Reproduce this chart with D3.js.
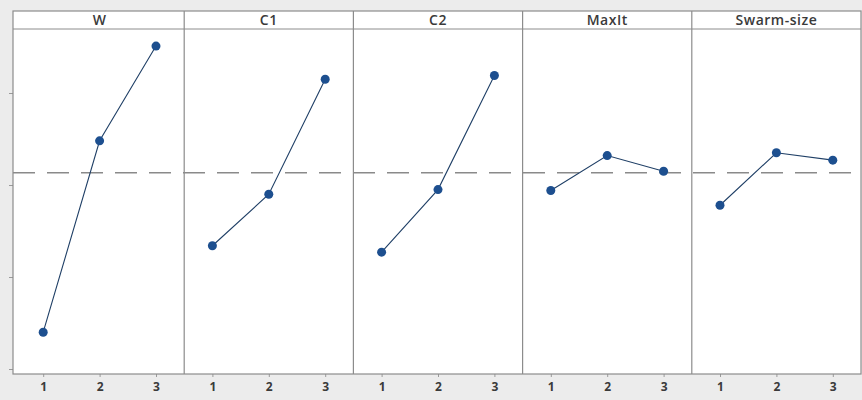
<!DOCTYPE html>
<html>
<head>
<meta charset="utf-8">
<script src="https://cdn.jsdelivr.net/npm/d3@7"></script>
<style>
  html, body { margin: 0; padding: 0; background: #ececec; }
  svg { display: block; }
</style>
</head>
<body>
<svg id="chart" width="862" height="400"></svg>
<script>
// ---- data ----
const factors = ["W", "C1", "C2", "MaxIt", "Swarm-size"];
const levels = [1, 2, 3];
const valuesW = [14.0, 34.8, 45.1];
const valuesC1 = [23.4, 29.0, 41.5];
const valuesC2 = [22.7, 29.5, 41.9];
const valuesMaxIt = [29.4, 33.2, 31.5];
const valuesSwarm = [27.8, 33.5, 32.7];
const yTicks = [10, 20, 30, 40];

const series = [valuesW, valuesC1, valuesC2, valuesMaxIt, valuesSwarm];
const allVals = series.flat();
const grandMean = d3.mean(allVals);

const svg = d3.select("#chart");
const pLeft = 13, pRight = 861, pTop = 11, headerH = 18, pBottom = 374;

const xPanel = d3.scaleBand().domain(factors).range([pLeft + 2, pRight]).padding(0);
const xLevel = d3.scalePoint().domain(levels).range([0, xPanel.bandwidth()]).padding(0.5);
const y = d3.scaleLinear().domain([10, 40]).range([369, 93]);

// white plot background
svg.append("rect").attr("x", pLeft).attr("y", pTop).attr("width", pRight - pLeft).attr("height", pBottom - pTop)
  .attr("fill", "#ffffff");

// header strip line
svg.append("line").attr("x1", pLeft).attr("x2", pRight).attr("y1", pTop + headerH).attr("y2", pTop + headerH)
  .attr("stroke", "#8c8c8c").attr("stroke-width", 1);

// mean dashed line
svg.append("line").attr("x1", pLeft).attr("x2", pRight).attr("y1", y(grandMean)).attr("y2", y(grandMean))
  .attr("stroke", "#8a8a8a").attr("stroke-width", 1.3).attr("stroke-dasharray", "22,12");

// y ticks (no labels)
const yAxis = d3.axisLeft(y).tickValues(yTicks).tickSize(4).tickFormat("");
const gy = svg.append("g").attr("transform", `translate(${pLeft},0)`).call(yAxis);
gy.select(".domain").remove();
gy.selectAll(".tick line").attr("stroke", "#9a9a9a");

const line = d3.line().x((d, i) => xLevel(levels[i])).y(d => y(d));

factors.forEach((f, k) => {
  const g = svg.append("g").attr("transform", `translate(${xPanel(f)},0)`);
  // title
  g.append("text").attr("x", xPanel.bandwidth() / 2).attr("y", pTop + 14)
    .attr("text-anchor", "middle").attr("font-family", "Open Sans, sans-serif")
    .attr("font-size", 14).attr("font-weight", 600).attr("letter-spacing", 0.5)
    .attr("fill", "#3a3a3a").text(f);
  // x axis
  const xa = d3.axisBottom(xLevel).tickSize(3).tickPadding(5);
  const gx = g.append("g").attr("transform", `translate(0,${pBottom})`).call(xa);
  gx.select(".domain").remove();
  gx.selectAll(".tick line").attr("stroke", "#9a9a9a");
  gx.selectAll(".tick text").attr("font-family", "Open Sans, sans-serif").attr("font-size", 12)
    .attr("font-weight", 700).attr("fill", "#3a3a3a");
  // line and points
  g.append("path").datum(series[k]).attr("d", line).attr("fill", "none")
    .attr("stroke", "#1f3f66").attr("stroke-width", 1.1);
  g.selectAll("circle").data(series[k]).join("circle")
    .attr("cx", (d, i) => xLevel(levels[i])).attr("cy", d => y(d)).attr("r", 4.5)
    .attr("fill", "#1d4f8f");
});

// panel dividers
factors.slice(1).forEach(f => {
  svg.append("line").attr("x1", xPanel(f)).attr("x2", xPanel(f)).attr("y1", pTop).attr("y2", pBottom)
    .attr("stroke", "#8c8c8c").attr("stroke-width", 1.2);
});

// frame
svg.append("rect").attr("x", pLeft).attr("y", pTop).attr("width", pRight - pLeft).attr("height", pBottom - pTop)
  .attr("fill", "none").attr("stroke", "#8c8c8c").attr("stroke-width", 1.2);
</script>
</body>
</html>
